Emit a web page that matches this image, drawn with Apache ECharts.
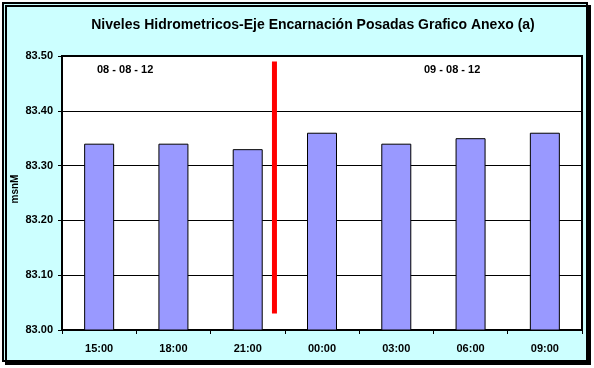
<!DOCTYPE html>
<html><head><meta charset="utf-8">
<script src="https://cdn.jsdelivr.net/npm/echarts@6/dist/echarts.min.js"></script>
<style>html,body{margin:0;padding:0;background:#fff}#c{width:594px;height:368px}</style>
</head><body><div id="c"></div>
<script>
var categories = ['15:00','18:00','21:00','00:00','03:00','06:00','09:00'];
var levels = [83.34, 83.34, 83.33, 83.36, 83.34, 83.35, 83.36];
var dayLabels = ['08 - 08 - 12', '09 - 08 - 12'];
var dayBreakX = [2.86, 2.86];
var dayBreakY = [83.03, 83.49];
var yTicks = {min: 83.0, max: 83.5, interval: 0.1};

var chart = echarts.init(document.getElementById('c'), null, {renderer:'canvas'});
var font = 'Arial, "Liberation Sans", sans-serif';
chart.setOption({
  animation:false,
  backgroundColor:'#ffffff',
  graphic:[
    {type:'rect', z:-10, shape:{x:3,y:3,width:584,height:358},
     style:{fill:'#CCFFFF', stroke:'#000', lineWidth:2, shadowColor:'#000', shadowOffsetX:3, shadowOffsetY:3, shadowBlur:0}},
    {type:'text', left:97, top:64, style:{text:dayLabels[0], font:'bold 11px '+font, fill:'#000'}},
    {type:'text', left:424, top:64, style:{text:dayLabels[1], font:'bold 11px '+font, fill:'#000'}},
    {type:'text', x:313, y:25, style:{text:'Niveles Hidrometricos-Eje Encarnación Posadas Grafico Anexo (a)', font:'bold 14px '+font, fill:'#000', textAlign:'center', textVerticalAlign:'middle'}},
    {type:'text', x:15, y:189, rotation:Math.PI/2, style:{text:'msnM', font:'bold 10px '+font, fill:'#000', textAlign:'center', textVerticalAlign:'middle'}}
  ],
  grid:{left:62, right:12, top:56, bottom:38, show:true, backgroundColor:'#fff', borderColor:'#000', borderWidth:2},
  xAxis:[
    {type:'category', data:categories, boundaryGap:true,
     axisLine:{lineStyle:{color:'#000', width:2}},
     axisTick:{show:true, inside:false, length:4, lineStyle:{color:'#000'}},
     axisLabel:{color:'#000', fontWeight:'bold', fontSize:11, fontFamily:font, margin:13}},
    {type:'value', min:0, max:7, show:false}
  ],
  yAxis:{type:'value', min:yTicks.min, max:yTicks.max, interval:yTicks.interval,
     axisLine:{show:true, lineStyle:{color:'#000', width:2}},
     axisTick:{show:true, length:4, lineStyle:{color:'#000'}},
     splitLine:{lineStyle:{color:'#000', width:1}},
     axisLabel:{color:'#000', fontWeight:'bold', fontSize:11, fontFamily:font, margin:9, formatter:function(v){return v.toFixed(2);}}},
  series:[
    {type:'bar', data:levels, barWidth:30, itemStyle:{color:'#9999FF', borderColor:'#000', borderWidth:1}},
    {type:'line', xAxisIndex:1, data:[[dayBreakX[0],dayBreakY[0]],[dayBreakX[1],dayBreakY[1]]], symbol:'none', lineStyle:{color:'#FF0000', width:5}, z:5}
  ]
});
</script></body></html>
